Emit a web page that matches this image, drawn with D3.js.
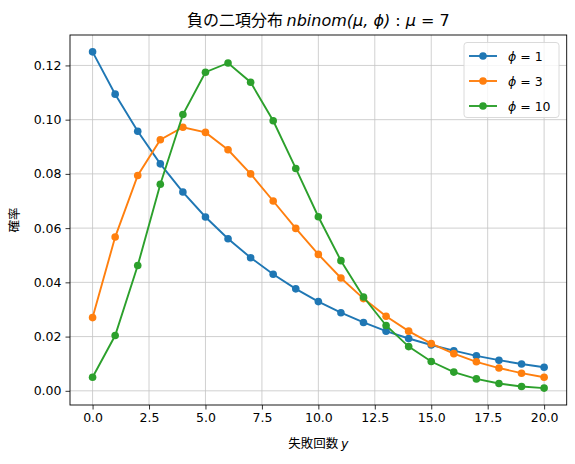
<!DOCTYPE html>
<html><head><meta charset="utf-8">
<script src="https://cdn.jsdelivr.net/npm/d3@7"></script>
<style>body{margin:0;background:#fff}svg{display:block}</style>
</head><body>
<svg id="c" width="575" height="464"></svg>
<script>
const yValues = [0,1,2,3,4,5,6,7,8,9,10,11,12,13,14,15,16,17,18,19,20];
const phi1 = [0.1250,0.1094,0.0957,0.0837,0.0733,0.0641,0.0561,0.0491,0.0430,0.0376,0.0329,0.0288,0.0252,0.0220,0.0193,0.0169,0.0148,0.0129,0.0113,0.0099,0.0087];
const phi3 = [0.0270,0.0567,0.0794,0.0926,0.0972,0.0953,0.0889,0.0800,0.0700,0.0599,0.0503,0.0416,0.0340,0.0275,0.0220,0.0174,0.0137,0.0107,0.0084,0.0065,0.0050];
const phi10 = [0.0050,0.0204,0.0462,0.0762,0.1019,0.1175,0.1209,0.1138,0.0996,0.0820,0.0642,0.0480,0.0346,0.0241,0.0163,0.0108,0.0069,0.0044,0.0027,0.0016,0.0010];
const seriesLabels = ["1","3","10"];
const xTicks = [0,2.5,5,7.5,10,12.5,15,17.5,20];
const yTicks = [0,0.02,0.04,0.06,0.08,0.10,0.12];
const colors = ["#1f77b4","#ff7f0e","#2ca02c"];
const series = [phi1, phi3, phi10];

const svg = d3.select("#c");
const L=70, R=566.7, T=35, B=405;
const x = d3.scaleLinear().domain([-1,21]).range([L,R]);
const y = d3.scaleLinear().domain([-0.00523,0.13122]).range([B,T]);
const font = "'DejaVu Sans', sans-serif";

// grid
const g = svg.append("g");
g.selectAll(".gx").data(xTicks).enter().append("line")
  .attr("x1",d=>x(d)).attr("x2",d=>x(d)).attr("y1",T).attr("y2",B)
  .attr("stroke","#c4c4c4").attr("stroke-width",0.8);
g.selectAll(".gy").data(yTicks).enter().append("line")
  .attr("y1",d=>y(d)).attr("y2",d=>y(d)).attr("x1",L).attr("x2",R)
  .attr("stroke","#c4c4c4").attr("stroke-width",0.8);

// series
const line = d3.line().x((d,i)=>x(yValues[i])).y(d=>y(d));
series.forEach((s,k)=>{
  svg.append("path").datum(s).attr("d",line).attr("fill","none")
    .attr("stroke",colors[k]).attr("stroke-width",1.9);
  svg.selectAll(".m"+k).data(s).enter().append("circle")
    .attr("cx",(d,i)=>x(yValues[i])).attr("cy",d=>y(d)).attr("r",3.8)
    .attr("fill",colors[k]);
});

// axes
const xAxis = d3.axisBottom(x).tickValues(xTicks).tickFormat(d3.format(".1f")).tickSize(4.5).tickPadding(4);
const yAxis = d3.axisLeft(y).tickValues(yTicks).tickFormat(d3.format(".2f")).tickSize(4.5).tickPadding(4);
const ax = svg.append("g").attr("transform",`translate(0,${B})`).call(xAxis);
const ay = svg.append("g").attr("transform",`translate(${L},0)`).call(yAxis);
[ax,ay].forEach(a=>{
  a.select(".domain").remove();
  a.selectAll("text").attr("font-family",font).attr("font-size","12.5px").attr("fill","#000");
  a.selectAll("line").attr("stroke","#000").attr("stroke-width",0.8);
});
svg.append("rect").attr("x",L).attr("y",T).attr("width",R-L).attr("height",B-T)
  .attr("fill","none").attr("stroke","#000").attr("stroke-width",0.9);

// title
const t = svg.append("text").attr("x",(L+R)/2).attr("y",26).attr("text-anchor","middle")
  .attr("font-family","'Noto Sans CJK JP', 'DejaVu Sans', sans-serif").attr("font-size","16px");
t.append("tspan").text("負の二項分布 ");
t.append("tspan").attr("font-family",font).attr("font-style","italic").text("nbinom(μ, ϕ)");
t.append("tspan").attr("font-family",font).text(" : ");
t.append("tspan").attr("font-family",font).attr("font-style","italic").text("μ");
t.append("tspan").attr("font-family",font).text(" = 7");

// x label
const xl = svg.append("text").attr("x",(L+R)/2).attr("y",448).attr("text-anchor","middle")
  .attr("font-family","'Noto Sans CJK JP', sans-serif").attr("font-size","12.5px");
xl.append("tspan").text("失敗回数 ");
xl.append("tspan").attr("font-family",font).attr("font-style","italic").text("y");

// y label
svg.append("text").attr("transform",`translate(19,${(T+B)/2}) rotate(-90)`)
  .attr("text-anchor","middle").attr("font-family","'Noto Sans CJK JP', sans-serif")
  .attr("font-size","12.5px").text("確率");

// legend
const lg = svg.append("g");
lg.append("rect").attr("x",464).attr("y",42.5).attr("width",95).attr("height",75).attr("rx",3)
  .attr("fill","#fff").attr("fill-opacity",0.8).attr("stroke","#d6d6d6").attr("stroke-width",0.9);
seriesLabels.forEach((lab,k)=>{
  const yy = 56 + k*25;
  lg.append("line").attr("x1",469).attr("x2",497).attr("y1",yy).attr("y2",yy)
    .attr("stroke",colors[k]).attr("stroke-width",1.9);
  lg.append("circle").attr("cx",483).attr("cy",yy).attr("r",3.8).attr("fill",colors[k]);
  const tx = lg.append("text").attr("x",508).attr("y",yy+4.5).attr("font-family",font).attr("font-size","12.5px");
  tx.append("tspan").attr("font-style","italic").text("ϕ");
  tx.append("tspan").text(" = " + lab);
});
</script>
</body></html>
